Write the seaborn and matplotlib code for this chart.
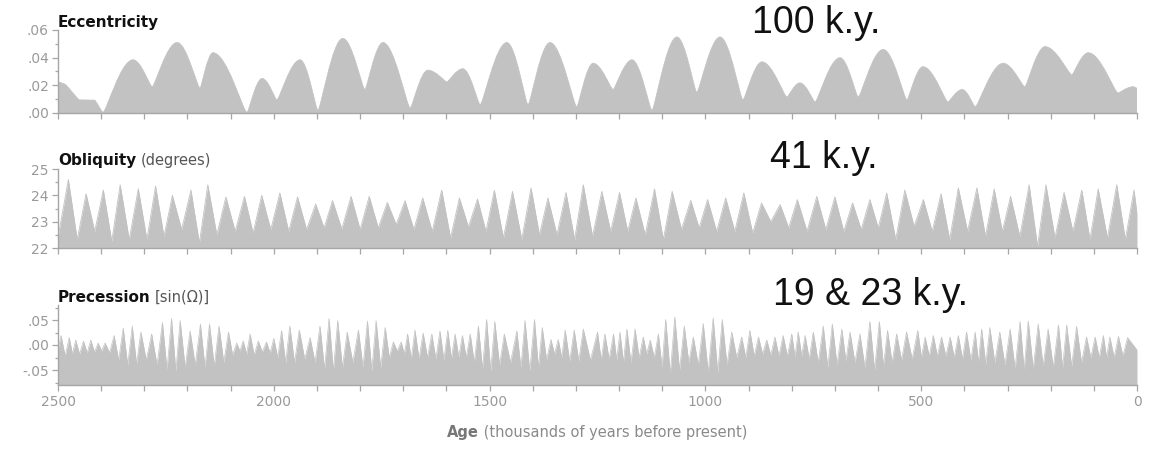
import numpy as np
import pandas as pd
import matplotlib
matplotlib.use("Agg")
import matplotlib.pyplot as plt
from matplotlib.path import Path
from matplotlib.patches import PathPatch
from matplotlib.ticker import MultipleLocator, FuncFormatter
import seaborn as sns

# ---------------- data ----------------
# Eccentricity: successive extrema (age in k.y. before present, value)
ecc_age = [2500, 2485, 2450, 2415, 2396, 2326, 2282, 2224, 2171, 2141, 2062, 2027, 1993, 1939, 1898,
           1840, 1789, 1747, 1684, 1643, 1599, 1562, 1522, 1460, 1411, 1360, 1298, 1260, 1214, 1170,
           1124, 1066, 1020, 966, 913, 869, 811, 781, 746, 688, 646, 588, 533, 496, 438,
           405, 375, 310, 260, 213, 151, 113, 44, 9, 0]
ecc_val = [0.0225, 0.021, 0.0095, 0.0093, 0.0005, 0.0385, 0.019, 0.051, 0.018, 0.0436, 0.0005, 0.025, 0.0095, 0.0385, 0.002,
           0.054, 0.017, 0.051, 0.0036, 0.031, 0.0225, 0.032, 0.006, 0.051, 0.006, 0.051, 0.0045, 0.036, 0.017, 0.0385,
           0.002, 0.055, 0.015, 0.055, 0.0095, 0.037, 0.0116, 0.0218, 0.008, 0.04, 0.0116, 0.046, 0.0095, 0.0335, 0.008,
           0.017, 0.0045, 0.036, 0.019, 0.048, 0.0276, 0.0436, 0.0145, 0.019, 0.018]

# Obliquity: peak ages / peak values, and trough values (start, between peaks, end)
obl_peak_age = [2476, 2435, 2395, 2356, 2314, 2274, 2235, 2192, 2153, 2111, 2068, 2028, 1986, 1945, 1903, 1864, 1821, 1779, 1737,
                1696, 1655, 1611, 1570, 1528, 1489, 1447, 1404, 1365, 1323, 1283, 1240, 1199, 1161, 1118, 1077, 1034, 995, 953, 911, 870,
                827, 787, 742, 700, 659, 619, 580, 538, 495, 454, 414, 371, 331, 293, 250, 211, 169, 128, 90, 47, 7]
obl_peak = [24.6, 24.06, 24.2, 24.4, 24.25, 24.35, 24.0, 24.2, 24.4, 23.94, 23.96, 24.0, 24.09, 23.94, 23.67, 23.8, 23.96, 23.96, 23.73,
            23.8, 23.9, 24.2, 23.9, 23.86, 24.19, 24.15, 24.28, 23.9, 24.11, 24.4, 24.15, 24.11, 23.9, 24.24, 24.15, 23.81, 23.84, 23.9, 24.09, 23.71,
            23.65, 23.84, 23.96, 23.94, 23.71, 23.84, 24.09, 24.2, 23.84, 24.06, 24.28, 24.28, 24.24, 23.96, 24.4, 24.4, 24.11, 24.2, 24.24, 24.4, 24.2]
obl_trough = [22.4,
              22.32, 22.63, 22.25, 22.32, 22.32, 22.44, 22.7, 22.19, 22.5, 22.63, 22.57, 22.7, 22.63, 22.7, 22.76, 22.72, 22.7, 22.76,
              22.89,
              22.7, 22.63, 22.38, 22.8, 22.63, 22.38, 22.32, 22.5, 22.5, 22.32, 22.44, 22.63, 22.63, 22.5, 22.32, 22.7, 22.76, 22.63, 22.63, 22.57,
              23.0,
              22.76, 22.63, 22.7, 22.63, 22.7, 22.76, 22.32, 22.82, 22.63, 22.32, 22.63, 22.44, 22.63, 22.44, 22.06, 22.38, 22.63, 22.32, 22.38, 22.32,
              23.3]

# Precession index: peak ages / peak values, and trough values (start, between peaks, end)
prec_peak_age = [2493, 2474, 2459, 2441, 2424, 2407, 2391, 2370, 2349, 2328, 2308, 2283, 2258, 2237, 2217, 2194, 2170, 2149, 2127, 2105,
                 2086, 2071, 2055, 2036, 2017, 2000, 1982, 1963, 1941, 1916, 1893, 1872, 1852, 1830, 1804, 1783, 1763, 1742, 1723, 1705,
                 1690, 1673, 1654, 1634, 1615, 1597, 1580, 1563, 1545, 1526, 1507, 1488, 1466, 1437, 1418, 1396, 1378, 1358, 1341, 1325,
                 1304, 1283,
                 1250, 1233, 1213, 1198, 1182, 1163, 1144, 1128, 1109, 1092, 1071, 1049, 1028, 1005, 982, 961, 939, 916, 897, 877,
                 858, 839, 820, 800, 785, 769, 750, 727, 706, 684, 665, 642, 619, 597, 578, 557, 534, 508, 491, 472,
                 453, 433, 414, 395, 375, 360, 341, 318, 294, 271, 252, 229, 206, 182, 163, 140, 117, 97, 78, 63, 43, 22]
prec_peak = [0.019, 0.015, 0.010, 0.008, 0.010, 0.004, 0.004, 0.019, 0.034, 0.038,
             0.026, 0.022, 0.045, 0.053, 0.049, 0.028, 0.042, 0.042, 0.038, 0.026,
             0.004, 0.008, 0.022, 0.008, 0.006, 0.013, 0.029, 0.038, 0.030, 0.015,
             0.038, 0.053, 0.049, 0.026, 0.030, 0.048, 0.049, 0.035, 0.006, 0.006,
             0.022, 0.030, 0.024, 0.022, 0.028, 0.029, 0.022, 0.019, 0.022, 0.038,
             0.051, 0.047, 0.022, 0.028, 0.049, 0.051, 0.035, 0.011, 0.011, 0.030,
             0.030, 0.032,
             0.026, 0.022, 0.022, 0.026, 0.032, 0.032, 0.016, 0.010, 0.022, 0.051,
             0.056, 0.038, 0.016, 0.043, 0.054, 0.051, 0.026, 0.016, 0.029, 0.016,
             0.010, 0.016, 0.019, 0.022, 0.026, 0.019, 0.026, 0.038, 0.042, 0.032,
             0.026, 0.022, 0.047, 0.047, 0.029, 0.022, 0.026, 0.029, 0.016, 0.019,
             0.016, 0.016, 0.019, 0.026, 0.026, 0.032, 0.035, 0.026, 0.032, 0.047,
             0.048, 0.042, 0.032, 0.040, 0.040, 0.037, 0.016, 0.016, 0.019, 0.016,
             0.017, 0.015]
prec_trough = [-0.010,
               -0.022, -0.018, -0.018, -0.016, -0.014, -0.012, -0.015, -0.030, -0.040, -0.038,
               -0.030, -0.040, -0.050, -0.052, -0.045, -0.040, -0.045, -0.042, -0.035, -0.020,
               -0.012, -0.018, -0.020, -0.014, -0.016, -0.025, -0.035, -0.035, -0.028, -0.035,
               -0.048, -0.052, -0.045, -0.035, -0.045, -0.052, -0.045, -0.025, -0.012, -0.018,
               -0.028, -0.028, -0.025, -0.028, -0.030, -0.027, -0.024, -0.025, -0.035, -0.048,
               -0.052, -0.040, -0.035, -0.045, -0.052, -0.045, -0.030, -0.018, -0.025, -0.032,
               -0.032,
               -0.030,
               -0.030, -0.028, -0.030, -0.035, -0.035, -0.025, -0.018, -0.025, -0.045, -0.058,
               -0.050, -0.035, -0.040, -0.055, -0.055, -0.040, -0.025, -0.025, -0.022, -0.018,
               -0.020, -0.022, -0.022, -0.024, -0.022, -0.028, -0.035, -0.045, -0.040, -0.032,
               -0.035, -0.045, -0.050, -0.042, -0.035, -0.030, -0.028, -0.025, -0.022, -0.022,
               -0.022, -0.025, -0.028, -0.030, -0.035, -0.038, -0.035, -0.040, -0.048, -0.050,
               -0.048, -0.042, -0.045, -0.045, -0.042, -0.035, -0.025, -0.025, -0.025, -0.025,
               -0.022,
               -0.010]

x_major = [2500, 2000, 1500, 1000, 500, 0]
x_labels = ["2500", "2000", "1500", "1000", "500", "0"]

# ---------------- style ----------------
sns.set_theme(style="ticks")
plt.rcParams['font.family'] = ['DejaVu Sans']

FILL = "#c2c2c2"
AXC = "#a6a6a6"
TXT = "#9a9a9a"

W, H = 1151, 449
fig = plt.figure(figsize=(W / 100, H / 100), dpi=100)


def add_ax(top, bottom):
    return fig.add_axes([58 / W, 1 - bottom / H, 1079 / W, (bottom - top) / H])


ax_e = add_ax(30, 113)
ax_o = add_ax(169, 248)
ax_p = add_ax(305, 385)


def interleave(peak_age, peak_val, trough_val):
    pa = list(peak_age)
    t_age = [2500] + [(pa[i] + pa[i + 1]) / 2 for i in range(len(pa) - 1)] + [0]
    xs, ys = [], []
    for i in range(len(pa)):
        xs += [t_age[i], pa[i]]
        ys += [trough_val[i], peak_val[i]]
    xs.append(t_age[-1])
    ys.append(trough_val[-1])
    return np.array(xs, float), np.array(ys, float)


def smooth_patch(ages, vals, base, kpeak, ktrough):
    n = len(ages)
    k = []
    for i in range(n):
        if i == 0 or i == n - 1:
            k.append(0.3)
        elif vals[i] >= vals[i - 1] and vals[i] >= vals[i + 1]:
            k.append(kpeak)
        else:
            k.append(ktrough)
    verts = [(ages[0], base), (ages[0], vals[0])]
    codes = [Path.MOVETO, Path.LINETO]
    for i in range(n - 1):
        d = ages[i + 1] - ages[i]
        verts += [(ages[i] + k[i] * d, vals[i]), (ages[i + 1] - k[i + 1] * d, vals[i + 1]),
                  (ages[i + 1], vals[i + 1])]
        codes += [Path.CURVE4] * 3
    verts += [(ages[-1], base), (ages[0], base)]
    codes += [Path.LINETO, Path.CLOSEPOLY]
    return PathPatch(Path(verts, codes), facecolor=FILL, edgecolor=FILL, lw=0.5)


# Eccentricity
ax_e.add_patch(smooth_patch(ecc_age, ecc_val, 0.0, 0.42, 0.12))
ax_e.set_ylim(0, 0.06)
ax_e.yaxis.set_major_locator(MultipleLocator(0.02))
ax_e.yaxis.set_minor_locator(MultipleLocator(0.01))

# Obliquity
ox, oy = interleave(obl_peak_age, obl_peak, obl_trough)
df_o = pd.DataFrame({"age": ox, "val": oy})
ax_o.fill_between(df_o["age"], 22, df_o["val"], color=FILL, lw=0)
sns.lineplot(data=df_o, x="age", y="val", ax=ax_o, color=FILL, lw=0.6, estimator=None, sort=False)
ax_o.set_ylim(22, 25)
ax_o.yaxis.set_major_locator(MultipleLocator(1))
ax_o.yaxis.set_minor_locator(MultipleLocator(0.5))

# Precession
px, py = interleave(prec_peak_age, prec_peak, prec_trough)
df_p = pd.DataFrame({"age": px, "val": py})
ax_p.fill_between(df_p["age"], -0.08, df_p["val"], color=FILL, lw=0)
sns.lineplot(data=df_p, x="age", y="val", ax=ax_p, color=FILL, lw=0.5, estimator=None, sort=False)
ax_p.set_ylim(-0.08, 0.08)
ax_p.yaxis.set_major_locator(MultipleLocator(0.05))
ax_p.yaxis.set_minor_locator(MultipleLocator(0.025))


def dec_fmt(v, pos):
    s = f"{v:.2f}"
    if s.startswith("-0."):
        return "-" + s[2:]
    if s.startswith("0."):
        return s[1:]
    return s


ax_e.yaxis.set_major_formatter(FuncFormatter(dec_fmt))
ax_p.yaxis.set_major_formatter(FuncFormatter(dec_fmt))
ax_o.yaxis.set_major_formatter(FuncFormatter(lambda v, p: f"{v:.0f}"))

for ax in (ax_e, ax_o, ax_p):
    ax.set_xlim(2500, 0)
    ax.set_xticks(x_major)
    ax.xaxis.set_minor_locator(MultipleLocator(100))
    ax.set_xlabel("")
    ax.set_ylabel("")
    ax.set_facecolor("none")
    for s in ("top", "right"):
        ax.spines[s].set_visible(False)
    for s in ("left", "bottom"):
        ax.spines[s].set_color(AXC)
        ax.spines[s].set_linewidth(1.0)
    ax.tick_params(axis="both", which="both", color=AXC, width=0.9, labelcolor=TXT, labelsize=10)
    ax.tick_params(axis="x", which="both", length=4, pad=3)
    ax.tick_params(axis="y", which="major", length=4.5, pad=2)
    ax.tick_params(axis="y", which="minor", length=2.5)
    ax.margins(x=0)

ax_p.set_xticklabels(x_labels)
ax_e.tick_params(axis="x", labelbottom=False)
ax_o.tick_params(axis="x", labelbottom=False)

# ---------------- panel titles ----------------
fig.canvas.draw()
renderer = fig.canvas.get_renderer()


def title_pair(ax, bold, rest, dy):
    t = ax.annotate(bold, xy=(0, 1), xycoords="axes fraction", xytext=(0, dy), textcoords="offset points",
                    ha="left", va="baseline", fontsize=11, fontweight="bold", color="#111111")
    if rest:
        bb = t.get_window_extent(renderer)
        ax_top = ax.get_window_extent(renderer).y1
        ax.annotate(rest, xy=(bb.x1 + 4, ax_top), xycoords="figure pixels", xytext=(0, dy),
                    textcoords="offset points", ha="left", va="baseline", fontsize=10.5, color="#555555")


title_pair(ax_e, "Eccentricity", "", 2.2)
title_pair(ax_o, "Obliquity", "(degrees)", 2.8)
title_pair(ax_p, "Precession", "[sin(Ω)]", 2.2)

# ---------------- big period annotations ----------------
for txt, x, yb in (("100 k.y.", 752, 33), ("41 k.y.", 770, 168), ("19 & 23 k.y.", 773, 305)):
    fig.text(x / W, 1 - yb / H, txt, ha="left", va="baseline", fontsize=27,
             family=["Liberation Sans", "DejaVu Sans"], color="#111111")

# ---------------- x-axis label ----------------
t1 = fig.text(0, 1 - 437 / H, "Age", ha="left", va="baseline", fontsize=10.5, fontweight="bold", color="#777777")
t2 = fig.text(0, 1 - 437 / H, " (thousands of years before present)", ha="left", va="baseline",
              fontsize=10.5, color="#8a8a8a")
w1 = t1.get_window_extent(renderer).width
w2 = t2.get_window_extent(renderer).width
cx = 597
x0 = cx - (w1 + w2) / 2
t1.set_x(x0 / W)
t2.set_x((x0 + w1) / W)

fig.savefig("out.png", dpi=100, facecolor="white")
